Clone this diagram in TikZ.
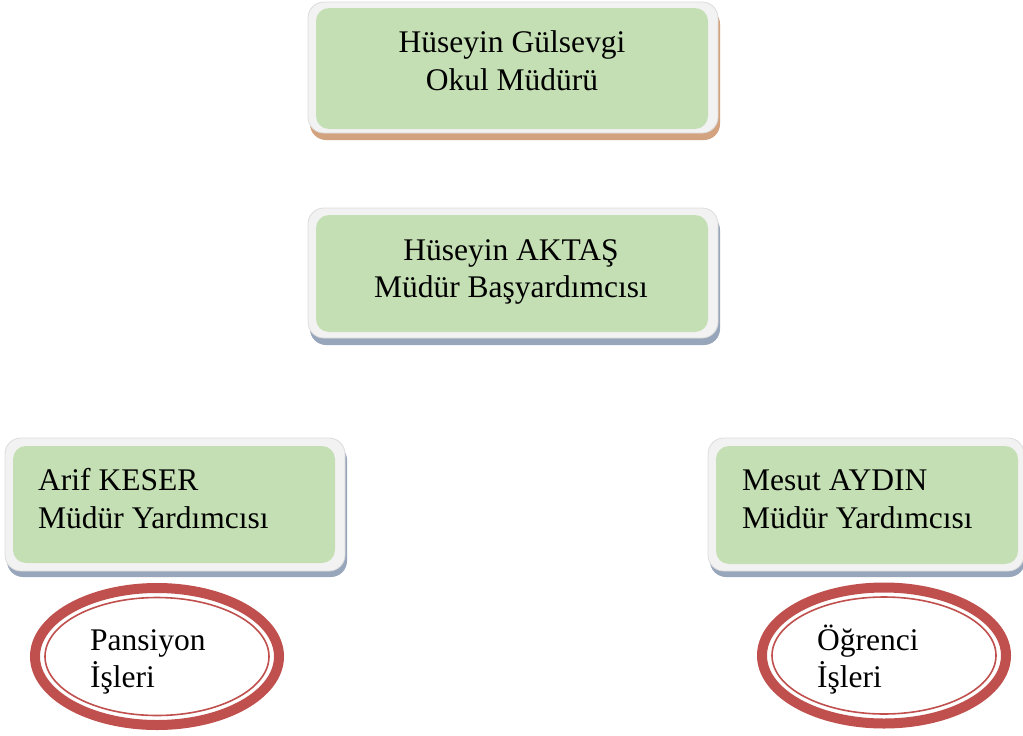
\documentclass[tikz,border=0pt]{standalone}
\usepackage{fontspec}
\setmainfont{Liberation Serif}
\definecolor{boxgreen}{HTML}{C4DFB3}
\definecolor{rimgray}{HTML}{F2F2F2}
\definecolor{rimedge}{HTML}{DCDCDC}
\definecolor{shadoworange}{HTML}{D3A27E}
\definecolor{shadowblue}{HTML}{98A6BB}
\definecolor{ringred}{HTML}{C0504D}
\tikzset{
  rim/.style={fill=rimgray, draw=rimedge, line width=0.8pt, rounded corners=16pt},
  shade/.style={rounded corners=16pt},
  greenbox/.style={fill=boxgreen, draw=none, rounded corners=13pt},
  txt/.style={inner sep=0pt, anchor=base, font=\fontsize{31.5}{38}\selectfont},
  txtl/.style={txt, anchor=base west},
  ringouter/.style={draw=ringred, line width=10pt},
  ringinner/.style={draw=ringred, line width=1.6pt}
}
\begin{document}
\begin{tikzpicture}[x=1pt,y=-1pt]
\useasboundingbox (0,0) rectangle (1023,736);
% top box
\fill[shade, shadoworange] (310,8) rectangle (720,140);
\draw[rim] (308,2) rectangle (718,133);
\fill[greenbox] (316,8) rectangle (708,129);
\node[txt] (t1) at (512,52) {Hüseyin Gülsevgi};
\node[txt] (t2) at (512,90) {Okul Müdürü};
% second box
\fill[shade, shadowblue] (310,214) rectangle (720,345);
\draw[rim] (308,208) rectangle (718,338);
\fill[greenbox] (316,215) rectangle (708,332);
\node[txt] (s1) at (511,260) {Hüseyin AKTAŞ};
\node[txt] (s2) at (511,297) {Müdür Başyardımcısı};
% left box
\fill[shade, shadowblue] (7,444) rectangle (347,577);
\draw[rim] (5,438) rectangle (345,571);
\fill[greenbox] (13,446) rectangle (335,563);
\node[txtl] (l1) at (38,490) {Arif KESER};
\node[txtl] (l2) at (38,528) {Müdür Yardımcısı};
% right box
\fill[shade, shadowblue] (710,444) rectangle (1025,577);
\draw[rim] (708,438) rectangle (1024,571);
\fill[greenbox] (716,446) rectangle (1018,564);
\node[txtl] (r1) at (742,490) {Mesut AYDIN};
\node[txtl] (r2) at (742,528) {Müdür Yardımcısı};
% left ellipse
\draw[ringouter] (157,656.5) ellipse [x radius=122pt, y radius=68.5pt];
\draw[ringinner] (157,656.5) ellipse [x radius=112pt, y radius=59pt];
\node[txtl] (e1) at (90,650) {Pansiyon};
\node[txtl] (e2) at (90,687) {İşleri};
% right ellipse
\draw[ringouter] (884,655.5) ellipse [x radius=122pt, y radius=68pt];
\draw[ringinner] (884,655.5) ellipse [x radius=112pt, y radius=58.5pt];
\node[txtl] (f1) at (817,650) {Öğrenci};
\node[txtl] (f2) at (817,687) {İşleri};
\end{tikzpicture}
\end{document}
